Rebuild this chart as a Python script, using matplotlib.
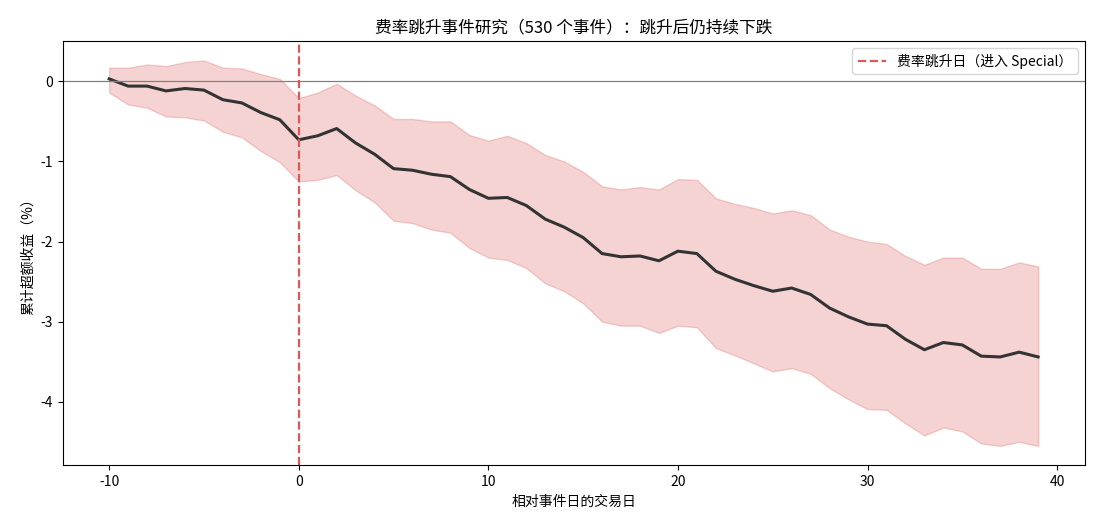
import matplotlib
matplotlib.use('Agg')
import matplotlib.pyplot as plt
import numpy as np

plt.rcParams['font.family'] = ['Noto Sans CJK SC', 'DejaVu Sans']
plt.rcParams['axes.unicode_minus'] = False

# relative trading days around the event
days = list(range(-10, 40))

# mean cumulative abnormal return (%)
car_mean = [0.03, -0.06, -0.06, -0.12, -0.09, -0.11, -0.23, -0.27, -0.39, -0.48,
            -0.73, -0.68, -0.59, -0.77, -0.91, -1.09, -1.11, -1.16, -1.19, -1.35,
            -1.46, -1.45, -1.55, -1.72, -1.82, -1.95, -2.15, -2.19, -2.18, -2.24,
            -2.12, -2.15, -2.37, -2.47, -2.55, -2.62, -2.58, -2.66, -2.83, -2.94,
            -3.03, -3.05, -3.22, -3.35, -3.26, -3.29, -3.43, -3.44, -3.38, -3.44]

# upper / lower band
car_upper = [0.17, 0.17, 0.21, 0.19, 0.24, 0.26, 0.17, 0.16, 0.09, 0.03,
             -0.21, -0.14, -0.03, -0.18, -0.30, -0.47, -0.47, -0.50, -0.50, -0.67,
             -0.74, -0.68, -0.77, -0.92, -1.00, -1.13, -1.31, -1.35, -1.32, -1.35,
             -1.22, -1.23, -1.46, -1.53, -1.58, -1.65, -1.61, -1.67, -1.85, -1.94,
             -2.00, -2.03, -2.18, -2.29, -2.20, -2.20, -2.34, -2.34, -2.26, -2.31]
car_lower = [-0.14, -0.29, -0.33, -0.44, -0.45, -0.49, -0.63, -0.70, -0.87, -1.01,
             -1.25, -1.23, -1.17, -1.36, -1.51, -1.74, -1.77, -1.85, -1.89, -2.08,
             -2.20, -2.23, -2.33, -2.52, -2.62, -2.77, -3.00, -3.05, -3.05, -3.14,
             -3.05, -3.07, -3.33, -3.42, -3.52, -3.62, -3.58, -3.65, -3.83, -3.97,
             -4.09, -4.10, -4.27, -4.42, -4.32, -4.37, -4.52, -4.55, -4.50, -4.55]

fig, ax = plt.subplots(figsize=(11, 5.28), dpi=100)
fig.subplots_adjust(left=0.057, right=0.986, top=0.922, bottom=0.119)

ax.fill_between(days, car_lower, car_upper, color='#d9534f', alpha=0.25, linewidth=1)
ax.plot(days, car_mean, color='#333333', linewidth=2.2)
ax.axhline(0, color='gray', linewidth=0.9)
ax.axvline(0, color='#e05555', linestyle='--', linewidth=1.6, label='费率跳升日（进入 Special）')

ax.set_title('费率跳升事件研究（530 个事件）：跳升后仍持续下跌', fontsize=12)
ax.set_xlabel('相对事件日的交易日', fontsize=10)
ax.set_ylabel('累计超额收益（%）', fontsize=10)
ax.legend(loc='upper right', fontsize=10)

plt.savefig('out.png', dpi=100)
